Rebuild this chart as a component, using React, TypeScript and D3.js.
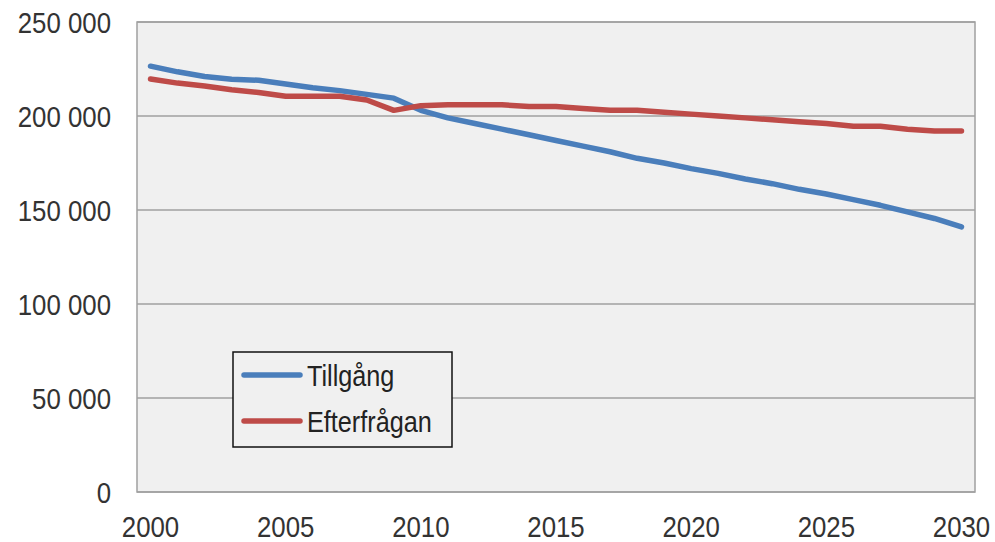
import React, { useEffect, useRef } from 'react';
import * as d3 from 'd3';

const years: number[] = d3.range(2000, 2031);

// Tillgång (supply)
const tillgang: number[] = [
  226500, 223500, 221000, 219500, 219000, 217000, 215000, 213500, 211500, 209500,
  203000, 199000, 196000, 193000, 190000, 187000, 184000, 181000, 177500, 175000,
  172000, 169500, 166500, 164000, 161000, 158500, 155500, 152500, 149000, 145500,
  141000,
];

// Efterfrågan (demand)
const efterfragan: number[] = [
  219700, 217500, 216000, 214000, 212500, 210500, 210500, 210500, 208500, 203000,
  205500, 206000, 206000, 206000, 205000, 205000, 204000, 203000, 203000, 202000,
  201000, 200000, 199000, 198000, 197000, 196000, 194500, 194500, 193000, 192000,
  192000,
];

const yTicks: number[] = [0, 50000, 100000, 150000, 200000, 250000];
const xTicks: number[] = [2000, 2005, 2010, 2015, 2020, 2025, 2030];

const seriesNames: string[] = ['Tillgång', 'Efterfrågan'];
const seriesColors: string[] = ['#4a7ebb', '#be4b48'];

const App = () => {
  const ref = useRef<SVGSVGElement>(null);

  useEffect(() => {
    const width = 995;
    const height = 542;
    const margin = { top: 22, right: 20, bottom: 50, left: 137 };
    const font = '"Liberation Sans", Arial, sans-serif';

    const svg = d3.select(ref.current);
    svg.selectAll('*').remove();

    const x = d3
      .scalePoint<number>()
      .domain(years)
      .range([margin.left, width - margin.right])
      .padding(0.5);

    const y = d3
      .scaleLinear()
      .domain([0, 250000])
      .range([height - margin.bottom, margin.top]);

    // plot background
    svg
      .append('rect')
      .attr('x', margin.left)
      .attr('y', margin.top)
      .attr('width', width - margin.left - margin.right)
      .attr('height', height - margin.top - margin.bottom)
      .attr('fill', '#f0f0f0')
      .attr('stroke', '#a0a0a0')
      .attr('stroke-width', 1.5);

    // gridlines
    svg
      .append('g')
      .selectAll('line')
      .data(yTicks)
      .enter()
      .append('line')
      .attr('x1', margin.left)
      .attr('x2', width - margin.right)
      .attr('y1', d => y(d))
      .attr('y2', d => y(d))
      .attr('stroke', '#a0a0a0')
      .attr('stroke-width', 1.5);

    // y tick labels (text is a bit condensed in the original)
    const fmt = (v: number) => d3.format(',')(v).replace(/,/g, ' ');
    svg
      .append('g')
      .selectAll('text')
      .data(yTicks)
      .enter()
      .append('text')
      .attr('transform', d => `translate(111, ${y(d) + 11}) scale(0.89, 1)`)
      .attr('text-anchor', 'end')
      .attr('font-family', font)
      .attr('font-size', 29)
      .attr('fill', '#333')
      .text(d => fmt(d));

    // x tick labels
    svg
      .append('g')
      .selectAll('text')
      .data(xTicks)
      .enter()
      .append('text')
      .attr('transform', d => `translate(${x(d)}, 537) scale(0.89, 1)`)
      .attr('text-anchor', 'middle')
      .attr('font-family', font)
      .attr('font-size', 29)
      .attr('fill', '#333')
      .text(d => d);

    // lines
    const line = d3
      .line<number>()
      .x((d, i) => x(years[i]) as number)
      .y(d => y(d));

    [tillgang, efterfragan].forEach((s, i) => {
      svg
        .append('path')
        .datum(s)
        .attr('d', line)
        .attr('fill', 'none')
        .attr('stroke', seriesColors[i])
        .attr('stroke-width', 5.5)
        .attr('stroke-linecap', 'round')
        .attr('stroke-linejoin', 'round');
    });

    // legend
    const legend = svg.append('g').attr('transform', 'translate(233, 352)');
    legend
      .append('rect')
      .attr('width', 219)
      .attr('height', 95)
      .attr('fill', '#f0f0f0')
      .attr('stroke', '#111')
      .attr('stroke-width', 1.5);

    seriesNames.forEach((name, i) => {
      const ly = 23 + i * 46;
      legend
        .append('line')
        .attr('x1', 11)
        .attr('x2', 67)
        .attr('y1', ly)
        .attr('y2', ly)
        .attr('stroke', seriesColors[i])
        .attr('stroke-width', 5.5)
        .attr('stroke-linecap', 'round');
      legend
        .append('text')
        .attr('transform', `translate(74, ${ly + 11}) scale(0.87, 1)`)
        .attr('font-family', font)
        .attr('font-size', 29)
        .attr('fill', '#222')
        .text(name);
    });
  }, []);

  return (
    <svg
      ref={ref}
      width={995}
      height={542}
      style={{ position: 'absolute', left: 0, top: 0, background: '#fff' }}
    />
  );
};

export default App;
